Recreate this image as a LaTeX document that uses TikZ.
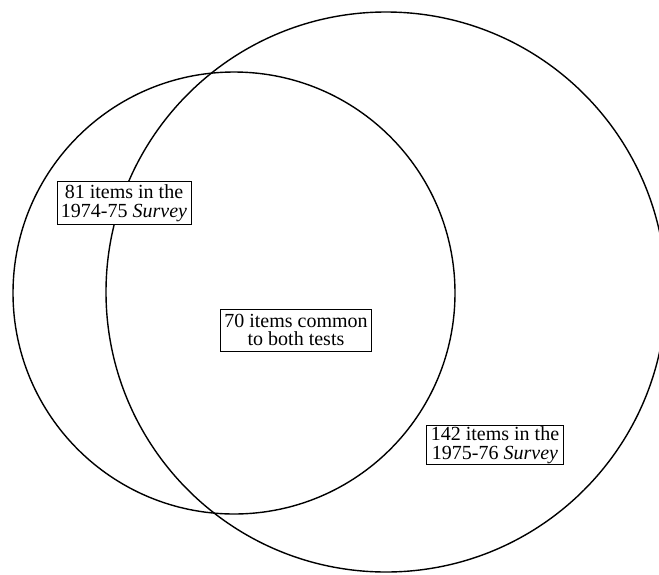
\documentclass[tikz,border=0pt]{standalone}
\usepackage{fontspec}
\setmainfont{Liberation Serif}
\begin{document}
\begin{tikzpicture}[x=1pt,y=-1pt,
  ring/.style={draw=black, line width=1.4pt},
  lbl/.style={draw=black, line width=0.9pt, fill=white, align=center,
    inner xsep=4pt, inner ysep=3pt,
    font=\fontsize{20}{18.5}\selectfont}]
\useasboundingbox (0,0) rectangle (659,574);
\clip (0,0) rectangle (659,574);
\fill[white] (0,0) rectangle (659,574);
\draw[ring] (234,293) circle[radius=221pt];
\draw[ring] (386,292) circle[radius=280pt];
\node[lbl] (old) at (124,203) {81 items in the\\1974-75 \textit{Survey}};
\node[lbl, inner ysep=5pt] (common) at (296,330) {70 items common\\to both tests};
\node[lbl, inner ysep=1pt] (new) at (495,445) {142 items in the\\1975-76 \textit{Survey}};
\end{tikzpicture}
\end{document}
